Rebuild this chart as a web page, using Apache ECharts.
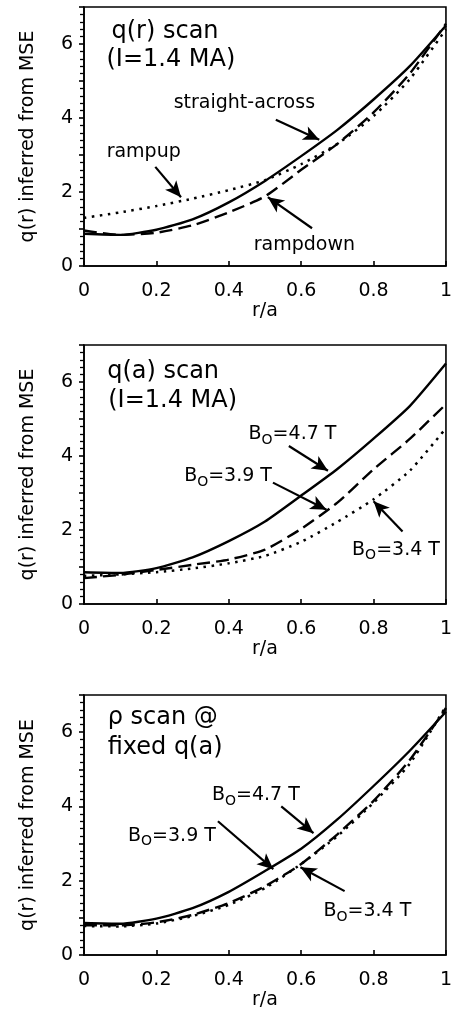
<!DOCTYPE html>
<html>
	<head>
		<meta charset="utf-8" />
		<title>q(r) inferred from MSE</title>
		<script type="text/javascript" src="https://cdn.jsdelivr.net/npm/echarts@6/dist/echarts.min.js"></script>
		<style>
			html, body { margin: 0; padding: 0; background: #fff; }
		</style>
	</head>
	<body>
		<div id="main" style="width: 455px;height:1019px;"></div>
		<script type="text/javascript">
		// r/a sample points shared by all curves
		var rA = [0, 0.1, 0.2, 0.3, 0.4, 0.5, 0.6, 0.7, 0.8, 0.9, 1.0];
		var xTicks = [0, 0.2, 0.4, 0.6, 0.8, 1];
		var yTicks = [0, 2, 4, 6];

		// panel 1: q(r) scan
		var qStraight = [0.87, 0.84, 0.98, 1.26, 1.72, 2.3, 2.97, 3.68, 4.5, 5.4, 6.5];
		var qRampdown = [0.96, 0.84, 0.9, 1.1, 1.45, 1.88, 2.6, 3.3, 4.15, 5.2, 6.55];
		var qRampup = [1.3, 1.45, 1.62, 1.82, 2.05, 2.32, 2.75, 3.3, 4.05, 5.05, 6.4];

		// panel 2: q(a) scan
		var qa47 = [0.86, 0.84, 0.97, 1.26, 1.7, 2.23, 2.93, 3.65, 4.47, 5.35, 6.5];
		var qa39 = [0.7, 0.79, 0.92, 1.06, 1.2, 1.47, 2.03, 2.74, 3.64, 4.46, 5.4];
		var qa34 = [0.76, 0.8, 0.86, 0.96, 1.1, 1.3, 1.68, 2.22, 2.83, 3.6, 4.75];

		// panel 3: rho scan @ fixed q(a)
		var rho47 = [0.86, 0.84, 0.98, 1.26, 1.7, 2.26, 2.86, 3.65, 4.55, 5.5, 6.55];
		var rho39 = [0.8, 0.8, 0.88, 1.08, 1.4, 1.85, 2.45, 3.25, 4.15, 5.25, 6.65];
		var rho34 = [0.78, 0.77, 0.85, 1.05, 1.35, 1.8, 2.45, 3.2, 4.1, 5.15, 6.7];

		var FONT = 'DejaVu Sans';

		function pairs(ys) {
			return rA.map(function (x, i) { return [x, ys[i]]; });
		}

		function bLabel(txt) {
			return '{b|B}{s|O}{b|' + txt + '}';
		}

		var richStyle = {
			b: { fontSize: 19, fontFamily: FONT, color: '#000', lineHeight: 22 },
			s: { fontSize: 14, fontFamily: FONT, color: '#000', padding: [12, 0, 0, 0] }
		};

		// annotation text: [x, y, text, align, size]
		var notes = [
			[
				[0.076, 6.33, 'q(r) scan', 'left', 24],
				[0.062, 5.57, '(I=1.4 MA)', 'left', 24],
				[0.443, 4.41, 'straight-across', 'center', 19],
				[0.165, 3.08, 'rampup', 'center', 19],
				[0.609, 0.56, 'rampdown', 'center', 19]
			],
			[
				[0.064, 6.28, 'q(a) scan', 'left', 24],
				[0.067, 5.5, '(I=1.4 MA)', 'left', 24],
				[0.576, 4.59, bLabel('=4.7 T'), 'center', 0],
				[0.398, 3.46, bLabel('=3.9 T'), 'center', 0],
				[0.862, 1.47, bLabel('=3.4 T'), 'center', 0]
			],
			[
				[0.0654, 6.39, 'ρ scan @', 'left', 24],
				[0.0654, 5.57, 'fixed q(a)', 'left', 24],
				[0.475, 4.3, bLabel('=4.7 T'), 'center', 0],
				[0.243, 3.21, bLabel('=3.9 T'), 'center', 0],
				[0.783, 1.18, bLabel('=3.4 T'), 'center', 0]
			]
		];

		// arrows: from [x, y] to [x, y]
		var arrows = [
			[[0.53, 3.95, 0.65, 3.41], [0.197, 2.68, 0.268, 1.86], [0.63, 1.02, 0.508, 1.86]],
			[[0.566, 4.27, 0.674, 3.6], [0.522, 3.28, 0.67, 2.55], [0.88, 1.96, 0.80, 2.78]],
			[[0.545, 4.0, 0.634, 3.28], [0.37, 3.6, 0.523, 2.31], [0.72, 1.72, 0.598, 2.36]]
		];

		var panels = [
			[qStraight, qRampdown, qRampup],
			[qa47, qa39, qa34],
			[rho47, rho39, rho34]
		];

		var grids = [
			{ left: 84, right: 1, top: 7, height: 259 },
			{ left: 84, right: 1, top: 345, height: 259 },
			{ left: 84, right: 1, top: 695, height: 260 }
		];

		var styles = [
			{ type: 'solid', width: 2.4 },
			{ type: [13, 6], width: 2.4 },
			{ type: [2.5, 5.5], width: 2.5 }
		];

		var option = {
			backgroundColor: '#fff',
			animation: false,
			grid: grids.map(function (g) {
				return Object.assign({ show: true, borderColor: '#000', borderWidth: 1.6, backgroundColor: 'transparent' }, g);
			}),
			xAxis: grids.map(function (g, i) {
				return {
					gridIndex: i,
					type: 'value',
					min: 0, max: 1, interval: 0.2,
					name: 'r/a',
					nameLocation: 'middle',
					nameGap: 36,
					nameTextStyle: { fontFamily: FONT, fontSize: 19, color: '#000' },
					axisLine: { show: true, lineStyle: { color: '#000', width: 1.6 } },
					axisTick: { show: true, inside: true, length: 5, lineStyle: { color: '#000', width: 1.6 } },
					axisLabel: {
						margin: 16, fontFamily: FONT, fontSize: 19, color: '#000',
						formatter: function (v) {
							var t = xTicks.filter(function (k) { return Math.abs(k - v) < 1e-6; });
							return t.length ? String(t[0]) : '';
						}
					},
					splitLine: { show: false }
				};
			}),
			yAxis: grids.map(function (g, i) {
				return {
					gridIndex: i,
					type: 'value',
					min: 0, max: 7, interval: 1,
					name: 'q(r) inferred from MSE',
					nameLocation: 'middle',
					nameGap: 46,
					nameTextStyle: { fontFamily: FONT, fontSize: 19, color: '#000' },
					axisLine: { show: true, lineStyle: { color: '#000', width: 1.6 } },
					axisTick: { show: true, length: 5, lineStyle: { color: '#000', width: 1.6 } },
					minorTick: { show: true, splitNumber: 5, length: 4, lineStyle: { color: '#000', width: 1.3 } },
					axisLabel: {
						margin: 11, fontFamily: FONT, fontSize: 19, color: '#000',
						formatter: function (v) { return yTicks.indexOf(v) >= 0 ? String(v) : ''; }
					},
					splitLine: { show: false }
				};
			}),
			series: []
		};

		panels.forEach(function (curves, p) {
			curves.forEach(function (ys, c) {
				var s = {
					type: 'line',
					xAxisIndex: p,
					yAxisIndex: p,
					data: pairs(ys),
					showSymbol: false,
					smooth: 0.2,
					lineStyle: { color: '#000', width: styles[c].width, type: styles[c].type },
					z: 3
				};
				if (c === 0) {
					s.markLine = {
						silent: true,
						symbol: ['none', 'arrow'],
						symbolSize: [11, 16],
						label: { show: false },
						lineStyle: { color: '#000', width: 2.2, type: 'solid' },
						data: arrows[p].map(function (a) {
							return [{ coord: [a[0], a[1]] }, { coord: [a[2], a[3]] }];
						})
					};
					s.markPoint = {
						silent: true,
						symbol: 'circle',
						symbolSize: 0,
						data: notes[p].map(function (n) {
							return {
								coord: [n[0], n[1]],
								label: {
									show: true,
									position: 'inside',
									align: n[3],
									verticalAlign: 'middle',
									color: '#000',
									fontFamily: FONT,
									fontSize: n[4] || 19,
									formatter: n[2],
									rich: richStyle
								}
							};
						})
					};
				}
				option.series.push(s);
			});
		});

		var myChart = echarts.init(document.getElementById('main'));
		myChart.setOption(option);
		</script>
	</body>
</html>
